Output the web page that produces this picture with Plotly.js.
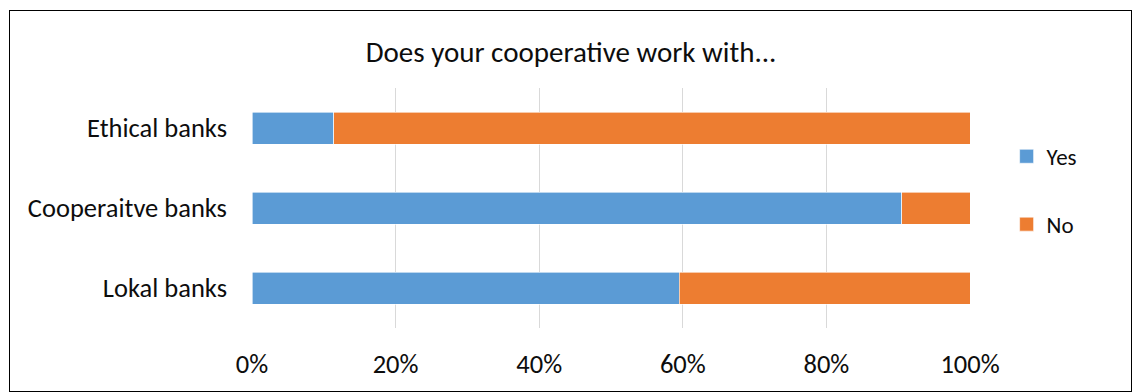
<!DOCTYPE html>
<html>
<head>
<meta charset="utf-8">
<script src="https://cdn.plot.ly/plotly-3.0.1.min.js"></script>
<style>
  html, body { margin: 0; padding: 0; background: #fff; }
  #wrap { position: relative; width: 1133px; height: 392px; }
  #chart { position: absolute; left: 0; top: 0; width: 1133px; height: 392px; }
  #frame { position: absolute; left: 9px; top: 10px; width: 1121px; height: 380px; border: 1px solid #000; pointer-events: none; }
</style>
</head>
<body>
<div id="wrap"><div id="chart"></div><div id="frame"></div></div>
<script>
const categories = ["Lokal banks", "Cooperaitve banks", "Ethical banks"];
const yesValues = [0.595, 0.905, 0.114];
const noValues = [0.405, 0.095, 0.886];
const seriesNames = ["Yes", "No"];
const tickValues = [0, 0.2, 0.4, 0.6, 0.8, 1.0];
const tickLabels = ["0%", "20%", "40%", "60%", "80%", "100%"];

const FONT = "Carlito, Calibri, 'Liberation Sans Narrow', 'Liberation Sans', sans-serif";
const TXT = "#0d0d0d";

const traces = [
  {
    type: "bar", orientation: "h", name: seriesNames[0], legendgroup: "a",
    y: categories, x: yesValues,
    marker: { color: "#5B9BD5", line: { color: "#ffffff", width: 0.6 } },
    hoverinfo: "skip"
  },
  {
    type: "bar", orientation: "h", name: seriesNames[1], legendgroup: "b",
    y: categories, x: noValues,
    marker: { color: "#ED7D31", line: { color: "#ffffff", width: 0.6 } },
    hoverinfo: "skip"
  }
];

const layout = {
  width: 1133, height: 392,
  margin: { l: 252, r: 163, t: 88, b: 64, pad: 0 },
  paper_bgcolor: "#ffffff", plot_bgcolor: "#ffffff",
  font: { family: FONT, size: 26.5, color: TXT },
  barmode: "stack",
  bargap: 0.6,
  title: {
    text: "Does your cooperative work with...",
    font: { family: FONT, size: 29, color: TXT },
    x: 0.504, xanchor: "center", xref: "container",
    y: 0.867, yanchor: "middle", yref: "container"
  },
  xaxis: {
    range: [0, 1],
    tickvals: tickValues, ticktext: tickLabels,
    showgrid: true, gridcolor: "#d9d9d9", gridwidth: 1.3,
    zeroline: false, showline: false, ticks: "",
    ticklabelstandoff: 17,
    tickfont: { family: FONT, size: 26.5, color: TXT },
    fixedrange: true
  },
  yaxis: {
    categoryorder: "array", categoryarray: categories,
    showgrid: false, zeroline: false, showline: false, ticks: "",
    ticklabelstandoff: 24,
    tickfont: { family: FONT, size: 26.5, color: TXT },
    fixedrange: true
  },
  legend: {
    x: 1.051, xanchor: "left", xref: "paper",
    y: 0.805, yanchor: "top", yref: "paper",
    traceorder: "grouped", tracegroupgap: 35,
    font: { family: FONT, size: 23, color: TXT },
    bgcolor: "rgba(0,0,0,0)"
  },
  showlegend: true
};

Plotly.newPlot("chart", traces, layout, { staticPlot: true, displayModeBar: false }).then(function (gd) {
  // enlarge legend swatches slightly to match the reference's 14px squares
  gd.querySelectorAll(".legendpoints path").forEach(function (p) {
    p.setAttribute("d", "M7,7H-7V-7H7Z");
  });
});
</script>
</body>
</html>
